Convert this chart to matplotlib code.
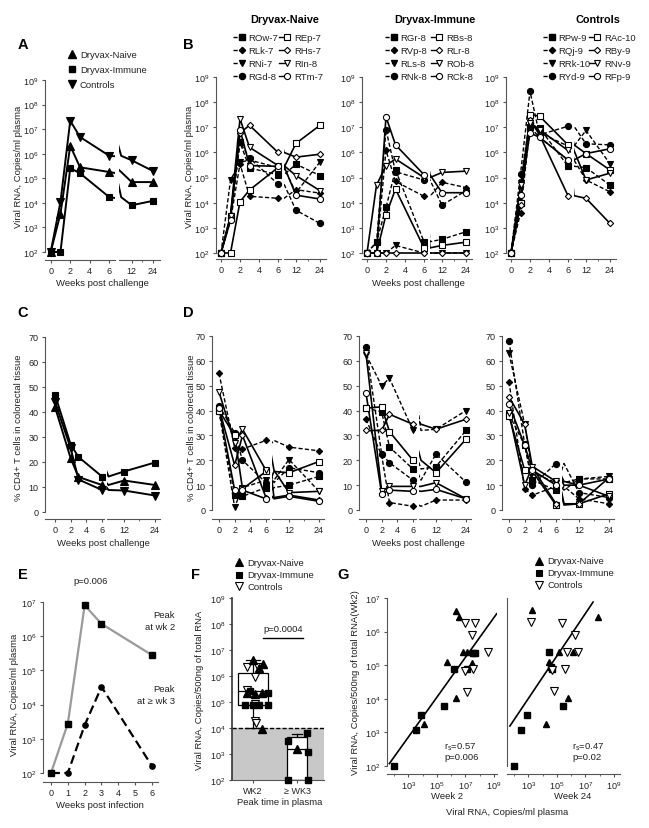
import numpy as np
import matplotlib
matplotlib.use("Agg")
import matplotlib.pyplot as plt
from matplotlib.lines import Line2D
from matplotlib.ticker import FixedLocator, NullFormatter, NullLocator

# ---------------- data ----------------
weeks = [0, 1, 2, 3, 6, 12, 24]
weeks_cd = [0, 2, 3, 6, 12, 24]

# Panel A: group mean viral RNA
A_naive = [1e2, 3.6e3, 2.1e6, 2.8e5, 1.8e5, 7e4, 7e4]
A_immune = [1e2, 1e2, 2.6e5, 1.6e5, 1.7e4, 8e3, 1.2e4]
A_controls = [1e2, 1.1e4, 2.2e7, 4.8e6, 8.2e5, 5.4e5, 2e5]

# Panel B: individual animals
naive_names = ["ROw-7", "RLk-7", "RNi-7", "RGd-8", "REp-7", "RHs-7", "RIn-8", "RTm-7"]
B_ROw7 = [1e2, 3e3, 2.5e6, 2.4e5, 1.3e5, 3.4e5, 1.2e5]
B_RLk7 = [1e2, 2e3, 3.5e5, 1.8e4, 1.5e4, 3.3e4, 2.4e4]
B_RNi7 = [1e2, 8e4, 4e5, 5e5, 2.5e5, 2.5e4, 4.2e5]
B_RGd8 = [1e2, 2.5e3, 2.5e6, 6e5, 5.5e4, 5e3, 1.5e3]
B_REp7 = [1e2, 1e2, 1.1e4, 3.2e4, 2.5e5, 2.3e6, 1.2e7]
B_RHs7 = [1e2, 3e3, 6e6, 1.2e7, 1e6, 6.5e5, 8.5e5]
B_RIn8 = [1e2, 3e3, 2.2e7, 1.6e6, 3e5, 1.2e5, 3e4]
B_RTm7 = [1e2, 2e3, 8e6, 3e5, 2.8e5, 2e4, 1.4e4]

immune_names = ["RGr-8", "RVp-8", "RLs-8", "RNk-8", "RBs-8", "RLr-8", "ROb-8", "RCk-8"]
B_RGr8 = [1e2, 2.7e2, 6.5e3, 2e5, 2.8e2, 3.5e2, 7e2]
B_RVp8 = [1e2, 1e2, 1.2e6, 7e4, 1.8e4, 6.5e4, 4e4]
B_RLs8 = [1e2, 1e2, 1e2, 2e2, 1e2, 1e2, 1e2]
B_RNk8 = [1e2, 2.7e2, 8e6, 1.7e5, 8e4, 8e3, 3e4]
B_RBs8 = [1e2, 1e2, 3.3e3, 3.5e4, 1.6e2, 2e2, 2.7e2]
B_RLr8 = [1e2, 1e2, 1e2, 1e2, 1e2, 1e2, 1e2]
B_ROb8 = [1e2, 5e4, 3e5, 5.5e5, 1e5, 1.6e5, 1.8e5]
B_RCk8 = [1e2, 1e2, 2.6e7, 2e6, 1.3e5, 2.5e4, 2.5e4]

control_names = ["RPw-9", "RQj-9", "RRk-10", "RYd-9", "RAc-10", "RBy-9", "RNv-9", "RFp-9"]
B_RPw9 = [1e2, 1e4, 1e7, 9.5e6, 2.8e5, 2.5e5, 5e4]
B_RQj9 = [1e2, 4e3, 1e7, 4e6, 5e5, 8e4, 2.7e4]
B_RRk10 = [1e2, 6e4, 2.5e7, 6e6, 1.8e6, 7.5e6, 3.5e5]
B_RYd9 = [1e2, 1.4e5, 2.7e8, 5e6, 1.1e7, 2.2e6, 2e6]
B_RAc10 = [1e2, 1e4, 3.2e7, 2.8e7, 2e6, 9e5, 2e5]
B_RBy9 = [1e2, 8e3, 2e7, 5e6, 1.9e4, 1.5e4, 1.5e3]
B_RNv9 = [1e2, 5e4, 1.5e7, 8e6, 1.2e6, 8e4, 1.5e5]
B_RFp9 = [1e2, 2e4, 6e6, 4e6, 5e5, 9e5, 1.4e6]

# Panel C: group mean % CD4+
C_naive = [42, 21.5, 14, 10.8, 12.6, 10.8]
C_immune = [47, 27, 22, 14.2, 16.2, 19.8]
C_controls = [44, 25.5, 13, 8.8, 8.6, 6.6]

# Panel D: individual % CD4+
D_ROw7 = [40, 6, 5.5, 9, 10, 13.5]
D_RLk7 = [55, 25, 24.5, 28, 25.3, 23.8]
D_RNi7 = [40, 1.2, 9, 12, 20.3, 7.5]
D_RGd8 = [42, 31, 20, 11, 17, 15]
D_REp7 = [40, 30, 8.5, 15.5, 15, 19.5]
D_RHs7 = [41, 18, 30, 5, 6, 4]
D_RIn8 = [47.5, 27, 32.5, 16, 7, 7.5]
D_RTm7 = [41, 8, 8, 4.5, 5.5, 3.5]

D_RGr8 = [41, 39.5, 25.3, 16.5, 17.5, 32]
D_RVp8 = [36.5, 22, 3, 1.5, 4, 4]
D_RLs8 = [62.5, 50, 53, 32, 32.5, 40]
D_RNk8 = [65.5, 22.5, 19, 12, 22.5, 11.2]
D_RBs8 = [41, 41.5, 31.5, 20, 15, 28.5]
D_RLr8 = [32, 32, 38.5, 34.5, 32.5, 36.5]
D_ROb8 = [63, 7.5, 9.5, 9.5, 11, 4.5]
D_RCk8 = [47, 6.5, 8, 7.5, 8.3, 4.5]

D_RPw9 = [38.5, 26, 12, 8, 12.5, 12.5]
D_RQj9 = [51.5, 8.5, 6, 9.5, 4.5, 2.5]
D_RRk10 = [63, 34.5, 15, 11, 12.5, 13.5]
D_RYd9 = [68, 26.5, 10, 18.7, 7, 5]
D_RAc10 = [38, 16, 15.5, 2, 2.5, 6.5]
D_RBy9 = [45.5, 34.5, 17, 2.5, 2.5, 13]
D_RNv9 = [39, 10, 17.5, 11.5, 10, 5.5]
D_RFp9 = [42.5, 26, 16, 10, 10, 12.5]

# Panel E
E_weeks = [0, 1, 2, 3, 4, 5, 6]
E_peak2_weeks = [0, 1, 2, 3, 6]
E_peak2 = [1e2, 2.8e3, 8e6, 2.3e6, 2.8e5]
E_peak3_weeks = [0, 1, 2, 3, 6]
E_peak3 = [1e2, 1e2, 2.5e3, 3.3e4, 1.6e2]

# Panel F
F_cats = ["WK2", "\u2265 WK3"]
F_wk2_naive_x = [0.0, 0.23, 0.14, -0.14, 0.05, 0.2, 0.2]
F_wk2_naive_y = [4.2e6, 2.9e6, 2.0e6, 2.3e5, 2.0e5, 2.3e5, 9.5e3]
F_wk2_immune_x = [-0.07, 0.35, -0.18, 0.0, 0.14, 0.35]
F_wk2_immune_y = [2.7e5, 2.3e5, 7.6e4, 7.6e4, 7.6e4, 7.6e4]
F_wk2_control_x = [-0.14, 0.12, 0.05, -0.14, 0.05, 0.05, 0.07]
F_wk2_control_y = [2.2e6, 2.2e6, 9e5, 2.8e5, 8.3e4, 1.9e4, 1.55e4]
F_wk3_immune_x = [0.8, 1.22, 1.25, 0.8, 1.25]
F_wk3_immune_y = [3.2e3, 6.2e3, 1.2e3, 1e2, 1e2]
F_wk3_naive_x = [1.0]
F_wk3_naive_y = [1.5e3]
F_box_q1 = [7.6e4, 1e2]
F_box_med = [2.6e5, 1.5e3]
F_box_q3 = [1.3e6, 4.4e3]
F_box_lo = [1e4, 1e2]
F_box_hi = [4.3e6, 6e3]
F_threshold = 1e4

# Panel G (x: plasma viral RNA, y: tissue viral RNA at wk2)
G1_immune_x = [1.05e2, 3.5e3, 7.2e3, 3.3e5, 1.6e6, 3.6e7, 4.7e7, 1.2e7]
G1_immune_y = [1e2, 1.2e3, 3.2e3, 6.2e3, 7.9e4, 2.3e5, 2.3e5, 7.9e4]
G1_naive_x = [1.26e4, 2.2e6, 4.9e5, 2.2e6, 3.5e6, 6.5e6, 1.2e7, 2.8e7]
G1_naive_y = [1.8e3, 1.05e4, 1.26e5, 4e6, 2.7e6, 2.5e5, 2.5e5, 1.2e5]
G1_control_x = [9.3e6, 4.7e7, 2.8e7, 4.1e8, 9.3e6, 3.2e7, 1.2e7]
G1_control_y = [1.8e6, 1.75e6, 7.9e5, 2.5e5, 6.6e4, 7.6e4, 1.6e4]
G1_fit_x = [10**1.67, 10**9.19]
G1_fit_y = [10**2.07, 10**6.53]

G2_immune_x = [1.0e2, 3.1e2, 8.5e2, 3.0e4, 3.7e4, 4.4e4, 2.6e5]
G2_immune_y = [1e2, 1.2e3, 3.2e3, 2.5e5, 8.9e4, 7.9e4, 6.3e3]
G2_naive_x = [1.7e3, 1.7e4, 3.0e4, 1.5e5, 1.3e6, 5.8e5, 7.9e7]
G2_naive_y = [4.3e6, 1.8e3, 1.26e5, 2.5e5, 2.5e5, 1.05e4, 2.7e6]
G2_control_x = [1.55e3, 4.4e4, 6.3e4, 2.2e5, 3.7e5, 4.9e5, 3.2e6, 1.9e6]
G2_control_y = [1.95e6, 7.1e4, 1.66e4, 1.8e6, 7.9e4, 2.5e5, 2.5e5, 7.9e5]
G2_fit_x = [10**1.71, 10**7.54]
G2_fit_y = [10**3.19, 10**6.88]

# ---------------- style ----------------
W, H, DPI = 649, 829, 100
plt.rcParams.update({
    'font.family': ['Liberation Sans', 'DejaVu Sans'],
    'mathtext.fontset': 'custom',
    'mathtext.rm': 'Liberation Sans',
    'mathtext.it': 'Liberation Sans:italic',
    'mathtext.bf': 'Liberation Sans:bold',
    'font.size': 6.5,
    'axes.linewidth': 0.8,
    'axes.edgecolor': '#555555',
    'xtick.color': '#555555', 'ytick.color': '#555555',
    'xtick.labelcolor': '#222222', 'ytick.labelcolor': '#222222',
    'xtick.major.size': 2.5, 'ytick.major.size': 2.5,
    'xtick.minor.size': 1.5, 'ytick.minor.size': 1.5,
    'xtick.major.width': 0.8, 'ytick.major.width': 0.8,
    'xtick.labelsize': 6.5, 'ytick.labelsize': 6.5,
    'xtick.major.pad': 1.5, 'ytick.major.pad': 2,
})
TXT = '#222222'

fig = plt.figure(figsize=(W / DPI, H / DPI), dpi=DPI)
ov = fig.add_axes([0, 0, 1, 1])
ov.set_xlim(0, W)
ov.set_ylim(H, 0)
ov.axis('off')
ov.patch.set_visible(False)


def rect(l, t, r, b):
    return [l / W, 1 - b / H, (r - l) / W, (b - t) / H]


def yrange(lo, hi, ytop, ybot, pt, pb, log):
    per = (hi - lo) / (ybot - ytop)
    a, b = lo - pb * per, hi + pt * per
    return (10 ** a, 10 ** b) if log else (a, b)


LOG_LABELS = {k: r'$10^{%d}$' % k for k in range(1, 10)}


def broken(geom, ylo, yhi, ytop, ybot, xaxis_px, log, yticks, ylabels):
    s, p0, ppw, b1, b2, p12, p24, r = geom
    pad = 5
    t, b = ytop - pad, ybot + pad
    axL = fig.add_axes(rect(s, t, b1, b))
    axR = fig.add_axes(rect(b2, t, r, b))
    ppw2 = (p24 - p12) / 12.0
    axL.set_xlim((s - p0) / ppw, (b1 - p0) / ppw)
    axR.set_xlim(12 - (p12 - b2) / ppw2, 24 + (r - p24) / ppw2)
    for ax in (axL, axR):
        if log:
            ax.set_yscale('log')
        ax.set_ylim(*yrange(ylo, yhi, ytop, ybot, pad, pad, log))
        ax.patch.set_visible(False)
        ax.spines['top'].set_visible(False)
        ax.spines['right'].set_visible(False)
        ax.spines['bottom'].set_position(('outward', (xaxis_px - b) * 0.72))
        ax.yaxis.set_minor_locator(NullLocator())
        ax.xaxis.set_minor_locator(NullLocator())
    axL.spines['left'].set_bounds(yticks[0], yticks[-1])
    axL.set_yticks(yticks)
    axL.set_yticklabels(ylabels)
    axR.spines['left'].set_visible(False)
    axR.tick_params(axis='y', which='both', left=False, labelleft=False)
    axL.set_xticks([0, 2, 4, 6])
    axR.set_xticks([12, 24])
    axR.xaxis.set_minor_locator(FixedLocator([18]))
    return axL, axR


def series(axes, x, y, ls, marker, filled, ms, lw=1.0, color='k'):
    axL, axR = axes
    x = np.asarray(x, float)
    y = np.asarray(y, float)
    mfc = 'k' if filled else 'white'
    for ax, m in ((axL, x <= 6.5), (axR, x >= 11.5)):
        ax.plot(x, y, ls=ls, color=color, lw=lw, zorder=2)
        ax.plot(x[m], y[m], ls='none', marker=marker, ms=ms, mfc=mfc,
                mec='k', mew=0.8, clip_on=False, zorder=3)


DASH = (0, (3, 1.6))
MARKERS = ['s', 'D', 'v', 'o']
MS = {'s': 4.2, 'D': 3.2, 'v': 4.6, 'o': 4.4}

log_ticks = [10.0 ** k for k in range(2, 10)]
log_labels = [LOG_LABELS[k] for k in range(2, 10)]
lin_ticks = [0, 10, 20, 30, 40, 50, 60, 70]
lin_labels = [str(v) for v in lin_ticks]

# ---------------- Panel A ----------------
axA = broken((45, 50.7, 9.77, 115, 119, 131.7, 152.7, 160), 2, 9, 81, 253, 261,
             True, log_ticks, log_labels)
series(axA, weeks, A_naive, '-', '^', True, 5.5, 1.4)
series(axA, weeks, A_immune, '-', 's', True, 5.0, 1.4)
series(axA, weeks, A_controls, '-', 'v', True, 5.5, 1.4)

# ---------------- Panel B ----------------
B_groups = [
    (216, naive_names, [B_ROw7, B_RLk7, B_RNi7, B_RGd8, B_REp7, B_RHs7, B_RIn8, B_RTm7]),
    (362, immune_names, [B_RGr8, B_RVp8, B_RLs8, B_RNk8, B_RBs8, B_RLr8, B_ROb8, B_RCk8]),
    (506, control_names, [B_RPw9, B_RQj9, B_RRk10, B_RYd9, B_RAc10, B_RBy9, B_RNv9, B_RFp9]),
]
for gi, (s, names, vals) in enumerate(B_groups):
    ax2 = broken((s, s + 5, 9.5, s + 65, s + 68, s + 80, s + 104, s + 110), 2, 9, 78, 254,
                 260, True, log_ticks, log_labels)
    for i, v in enumerate(vals):
        mk = MARKERS[i % 4]
        if i < 4:
            series(ax2, weeks, v, DASH, mk, True, MS[mk], 1.0)
        else:
            series(ax2, weeks, v, '-', mk, False, MS[mk], 1.2)

# ---------------- Panel C ----------------
axC = broken((45, 55, 7.83, 104, 107, 124, 155, 160), 0, 70, 338, 513, 520,
             False, lin_ticks, lin_labels)
series(axC, weeks_cd, C_naive, '-', '^', True, 5.5, 1.4)
series(axC, weeks_cd, C_immune, '-', 's', True, 5.0, 1.4)
series(axC, weeks_cd, C_controls, '-', 'v', True, 5.5, 1.4)

# ---------------- Panel D ----------------
D_groups = [
    (212, [D_ROw7, D_RLk7, D_RNi7, D_RGd8, D_REp7, D_RHs7, D_RIn8, D_RTm7]),
    (359, [D_RGr8, D_RVp8, D_RLs8, D_RNk8, D_RBs8, D_RLr8, D_ROb8, D_RCk8]),
    (502, [D_RPw9, D_RQj9, D_RRk10, D_RYd9, D_RAc10, D_RBy9, D_RNv9, D_RFp9]),
]
for s, vals in D_groups:
    ax2 = broken((s, s + 7, 7.83, s + 57, s + 60, s + 77, s + 107, s + 112), 0, 70, 337, 511,
                 520, False, lin_ticks, lin_labels)
    for i, v in enumerate(vals):
        mk = MARKERS[i % 4]
        if i < 4:
            series(ax2, weeks_cd, v, DASH, mk, True, MS[mk], 1.0)
        else:
            series(ax2, weeks_cd, v, '-', mk, False, MS[mk], 1.2)

# ---------------- Panel E ----------------
pad = 5
axE = fig.add_axes(rect(43, 603 - pad, 158, 774 + pad))
axE.set_yscale('log')
axE.set_ylim(*yrange(2, 7, 603, 774, pad, pad, True))
axE.set_xlim((43 - 51) / 16.83, (158 - 51) / 16.83)
axE.patch.set_visible(False)
axE.spines['top'].set_visible(False)
axE.spines['right'].set_visible(False)
axE.spines['bottom'].set_position(('outward', (783 - 779) * 0.72))
axE.spines['left'].set_bounds(1e2, 1e7)
axE.set_yticks([10.0 ** k for k in range(2, 8)])
axE.set_yticklabels([LOG_LABELS[k] for k in range(2, 8)])
axE.yaxis.set_minor_locator(NullLocator())
axE.set_xticks(E_weeks)
axE.plot(E_peak2_weeks, E_peak2, '-', color='#9a9a9a', lw=1.6, zorder=2)
axE.plot(E_peak2_weeks, E_peak2, 's', color='k', ms=4.6, clip_on=False, zorder=3)
axE.plot(E_peak3_weeks, E_peak3, color='k', lw=1.6, ls=(0, (4, 2)), zorder=2)
axE.plot(E_peak3_weeks, E_peak3, 'o', color='k', ms=3.8, clip_on=False, zorder=3)

# ---------------- Panel F ----------------
axF = fig.add_axes(rect(232, 596, 324, 781))
axF.set_yscale('log')
axF.set_ylim(1e2, 10 ** (9 + 3 * 7 / 182))
axF.set_xlim(-21 / 44, 1 + 27 / 44)
axF.patch.set_visible(False)
axF.spines['top'].set_visible(False)
axF.spines['right'].set_visible(False)
axF.spines['left'].set_bounds(1e2, 1e9)
axF.spines['left'].set_color('#333333')
axF.spines['left'].set_linewidth(1.2)
axF.set_yticks(log_ticks)
axF.set_yticklabels(log_labels)
axF.yaxis.set_minor_locator(NullLocator())
axF.set_xticks([0, 1])
axF.set_xticklabels(F_cats)
axF.axhspan(1e2, F_threshold, color='#c8c8c8', lw=0, zorder=0)
axF.axhline(F_threshold, color='k', lw=1.0, ls=(0, (3, 1.5)), zorder=1)
stats = [dict(med=F_box_med[i], q1=F_box_q1[i], q3=F_box_q3[i],
              whislo=F_box_lo[i], whishi=F_box_hi[i], fliers=[]) for i in range(2)]
axF.bxp(stats, positions=[0, 1], widths=[0.68, 0.45], showfliers=False,
        patch_artist=True,
        boxprops=dict(facecolor='white', edgecolor='k', lw=0.9),
        medianprops=dict(color='k', lw=0.9),
        whiskerprops=dict(color='k', lw=0.9),
        capprops=dict(color='k', lw=0.9), manage_ticks=False, zorder=2)
axF.plot(F_wk2_control_x, F_wk2_control_y, 'v', ms=5.5, mfc='white', mec='k', mew=0.8, ls='none', zorder=3)
axF.plot(F_wk2_immune_x, F_wk2_immune_y, 's', ms=5.0, color='k', ls='none', zorder=3)
axF.plot(F_wk2_naive_x, F_wk2_naive_y, '^', ms=5.5, color='k', ls='none', zorder=3)
axF.plot(F_wk3_immune_x, F_wk3_immune_y, 's', ms=5.0, color='k', ls='none', clip_on=False, zorder=3)
axF.plot(F_wk3_naive_x, F_wk3_naive_y, '^', ms=5.5, color='k', ls='none', zorder=3)
ov.plot([263, 303], [639, 639], color='k', lw=1.0)

# ---------------- Panel G ----------------
def g_axes(l, r, x3px, show_y):
    pad = 5
    ax = fig.add_axes(rect(l, 599 - pad, r, 767 + pad))
    ax.set_xscale('log')
    ax.set_yscale('log')
    ax.set_ylim(*yrange(2, 7, 599, 767, pad, pad, True))
    ax.set_xlim(10 ** (3 - (x3px - l) / 14.27), 10 ** (3 + (r - x3px) / 14.27))
    ax.patch.set_visible(False)
    ax.spines['top'].set_visible(False)
    ax.spines['right'].set_visible(False)
    ax.spines['bottom'].set_position(('outward', 3 * 0.72))
    ax.spines['left'].set_bounds(1e2, 1e7)
    ax.xaxis.set_major_locator(FixedLocator([1e3, 1e5, 1e7, 1e9]))
    ax.set_xticklabels([LOG_LABELS[3], LOG_LABELS[5], LOG_LABELS[7], LOG_LABELS[9]])
    ax.xaxis.set_minor_locator(FixedLocator([1e2, 1e4, 1e6, 1e8]))
    ax.xaxis.set_minor_formatter(NullFormatter())
    ax.yaxis.set_minor_locator(NullLocator())
    if show_y:
        ax.set_yticks([10.0 ** k for k in range(2, 8)])
        ax.set_yticklabels([LOG_LABELS[k] for k in range(2, 8)])
    else:
        ax.yaxis.set_major_locator(NullLocator())
        ax.tick_params(axis='y', left=False, labelleft=False)
    return ax


axG1 = g_axes(387, 497, 408.3, True)
axG2 = g_axes(506.7, 620, 528.3, False)
for ax, ix, iy, nx, ny, cx, cy, fx, fy in (
        (axG1, G1_immune_x, G1_immune_y, G1_naive_x, G1_naive_y, G1_control_x, G1_control_y, G1_fit_x, G1_fit_y),
        (axG2, G2_immune_x, G2_immune_y, G2_naive_x, G2_naive_y, G2_control_x, G2_control_y, G2_fit_x, G2_fit_y)):
    ax.plot(fx, fy, color='k', lw=1.2, zorder=2)
    ax.plot(ix, iy, 's', ms=5.0, color='k', ls='none', clip_on=False, zorder=3)
    ax.plot(nx, ny, '^', ms=5.0, color='k', ls='none', clip_on=False, zorder=3)
    ax.plot(cx, cy, 'v', ms=5.5, mfc='white', mec='k', mew=0.8, ls='none', clip_on=False, zorder=3)

# ---------------- text & legends ----------------
def t(x, y, s, **kw):
    kw.setdefault('color', TXT)
    kw.setdefault('fontsize', 6.8)
    kw.setdefault('ha', 'center')
    kw.setdefault('va', 'center')
    ov.text(x, y, s, **kw)


for x, y, s in ((23, 45, 'A'), (188, 45, 'B'), (23, 313, 'C'), (188, 313, 'D'),
                (23, 575, 'E'), (196, 575, 'F'), (343, 575, 'G')):
    t(x, y, s, fontsize=10.5, fontweight='bold', color='k')

vr = 'Viral RNA, Copies/ml plasma'
cd4 = '% CD4+ T cells in colorectal tissue'
t(19, 167, vr, rotation=90)
t(189, 167, vr, rotation=90)
t(102, 283, 'Weeks post challenge')
t(418, 283, 'Weeks post challenge')
t(19, 428, cd4, rotation=90)
t(192, 428, cd4, rotation=90)
t(103, 544, 'Weeks post challenge')
t(418, 543, 'Weeks post challenge')
t(15, 695, vr, rotation=90)
t(100, 806, 'Weeks post infection')
t(91, 582, 'p=0.006')
t(175, 616, 'Peak', ha='right')
t(175, 627, 'at wk 2', ha='right')
t(175, 690, 'Peak', ha='right')
t(175, 701, 'at \u2265 wk 3', ha='right')
t(200, 690, 'Viral RNA, Copies/500ng of total RNA', rotation=90)
t(280, 803, 'Peak time in plasma')
t(283, 630, 'p=0.0004')
t(355, 683, 'Viral RNA, Copies/500ng of total RNA(Wk2)', rotation=90)
t(447, 797, 'Week 2')
t(573, 797, 'Week 24')
t(507, 813, vr)
t(444, 747, r'r$_\mathrm{s}$=0.57', ha='left')
t(444, 758, 'p=0.006', ha='left')
t(572, 747, r'r$_\mathrm{s}$=0.47', ha='left')
t(572, 758, 'p=0.02', ha='left')

# A legend
for y, mk, lab in ((55, '^', 'Dryvax-Naive'), (70, 's', 'Dryvax-Immune'), (85, 'v', 'Controls')):
    ov.plot([72], [y], marker=mk, ms=5.5 if mk != 's' else 5.0, color='k', ls='none')
    t(80, y, lab, ha='left')

# F & G legends
for lx, rows in ((239, (563, 576, 587)), (539, (562, 574, 586))):
    for y, mk, fill, lab in zip(rows, ('^', 's', 'v'), ('k', 'k', 'white'),
                                ('Dryvax-Naive', 'Dryvax-Immune', 'Controls')):
        ov.plot([lx], [y], marker=mk, ms=5.5 if mk != 's' else 5.0, mfc=fill, mec='k',
                mew=0.8, ls='none')
        t(lx + 8, y, lab, ha='left')

# B legends
for base, title, tx, names in ((233, 'Dryvax-Naive', 285, naive_names),
                               (385, 'Dryvax-Immune', 435, immune_names),
                               (543, 'Controls', 598, control_names)):
    t(tx, 20, title, fontsize=7.8, fontweight='bold', color='k')
    rows = [38, 51, 64, 77]
    for i, nm in enumerate(names):
        col = i // 4
        y = rows[i % 4]
        mk = MARKERS[i % 4]
        x0 = base + col * 46
        if col == 0:
            ov.plot([x0, x0 + 9], [y, y], color='k', lw=1.0, ls=DASH)
            ov.plot([x0 + 9], [y], marker=mk, ms=MS[mk], color='k', ls='none')
        else:
            ov.plot([x0, x0 + 7], [y, y], color='k', lw=1.0)
            ov.plot([x0 + 8], [y], marker=mk, ms=MS[mk], mfc='white', mec='k', mew=0.8, ls='none')
        t(x0 + 15, y, nm, ha='left')

fig.savefig('out.png', dpi=DPI)
